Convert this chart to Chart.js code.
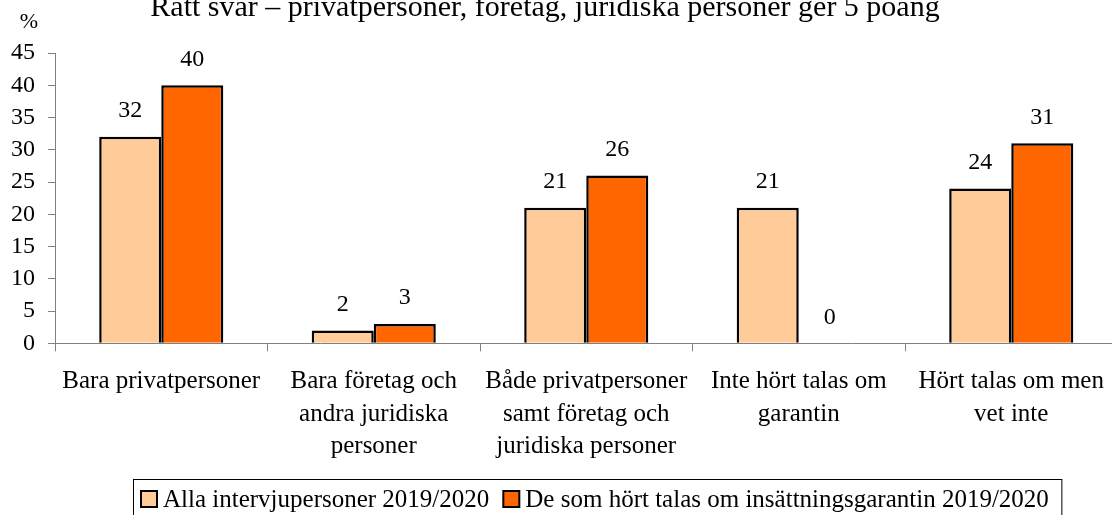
<!DOCTYPE html>
<html>
<head>
<meta charset="utf-8">
<script src="https://cdn.jsdelivr.net/npm/chart.js@4"></script>
<style>
  html, body { margin: 0; padding: 0; background: #fff; overflow: hidden; }
  #wrap { width: 1120px; height: 515px; }
</style>
</head>
<body>
<div id="wrap"><canvas id="svarChart" width="1120" height="515"></canvas></div>
<script>
// Rätt svar
const categories = [
    'Bara privatpersoner',
    ['Bara företag och', 'andra juridiska', 'personer'],
    ['Både privatpersoner', 'samt företag och', 'juridiska personer'],
    ['Inte hört talas om', 'garantin'],
    ['Hört talas om men', 'vet inte']
];
const allaValues = [32, 2, 21, 21, 24];
const hortValues = [40, 3, 26, 0, 31];
const seriesNames = ['Alla intervjupersoner 2019/2020', 'De som hört talas om insättningsgarantin 2019/2020'];
const yTicks = [0, 5, 10, 15, 20, 25, 30, 35, 40, 45];

const serif = "'Liberation Serif', 'Times New Roman', serif";

// value labels, title, % sign and boxed legend
const extras = {
    id: 'extras',
    afterDraw(chart) {
        const c = chart.ctx;
        c.save();
        c.fillStyle = '#000';
        c.font = '24px ' + serif;
        c.textAlign = 'center';
        c.textBaseline = 'middle';
        chart.data.datasets.forEach((ds, i) => {
            chart.getDatasetMeta(i).data.forEach((bar, j) => {
                c.fillText(String(ds.data[j]), bar.x, bar.y - 26);
            });
        });

        c.font = '30px ' + serif;
        c.textBaseline = 'alphabetic';
        c.fillText('Rätt svar – privatpersoner, företag, juridiska personer ger 5 poäng', 545, 16);

        c.font = '22px ' + serif;
        c.textBaseline = 'middle';
        c.fillText('%', 29, 22);

        // legend
        c.font = '25px ' + serif;
        c.textAlign = 'left';
        c.textBaseline = 'alphabetic';
        let x = 141;
        chart.data.datasets.forEach(ds => {
            c.fillStyle = ds.backgroundColor;
            c.fillRect(x, 491, 16, 16);
            c.strokeStyle = '#000';
            c.lineWidth = 2;
            c.strokeRect(x, 491, 16, 16);
            c.fillStyle = '#000';
            c.fillText(ds.label, x + 22, 507);
            x += 22 + c.measureText(ds.label).width + 14;
        });
        c.strokeStyle = '#000';
        c.lineWidth = 1;
        c.strokeRect(133.5, 479.5, x - 14 - 133.5 + 13, 50);
        c.restore();
    }
};

const ctx = document.getElementById('svarChart').getContext('2d');
const svarChart = new Chart(ctx, {
    type: 'bar',
    data: {
        labels: categories,
        datasets: [{
            label: seriesNames[0],
            data: allaValues,
            backgroundColor: '#FFCC99',
            borderColor: '#000',
            borderWidth: 2.5,
            borderSkipped: 'bottom'
        }, {
            label: seriesNames[1],
            data: hortValues,
            backgroundColor: '#FF6600',
            borderColor: '#000',
            borderWidth: 2.5,
            borderSkipped: 'bottom'
        }]
    },
    options: {
        responsive: false,
        animation: false,
        layout: { padding: { top: 53, left: 0, right: 2.5, bottom: 0 } },
        datasets: { bar: { categoryPercentage: 0.584, barPercentage: 1 } },
        plugins: {
            legend: { display: false },
            tooltip: { enabled: false }
        },
        scales: {
            x: {
                afterFit: s => { s.height = 171.7; },
                grid: { drawOnChartArea: false, tickLength: 8, color: '#808080' },
                border: { color: '#808080', width: 1 },
                ticks: {
                    color: '#000',
                    font: { family: serif, size: 25, lineHeight: 1.3 },
                    padding: 14,
                    maxRotation: 0,
                    autoSkip: false
                }
            },
            y: {
                min: 0,
                max: 45,
                afterFit: s => { s.width = 55; },
                afterBuildTicks: s => { s.ticks = yTicks.map(v => ({ value: v })); },
                grid: { drawOnChartArea: false, tickLength: 7, color: '#808080' },
                border: { color: '#808080', width: 1 },
                ticks: {
                    color: '#000',
                    font: { family: serif, size: 24 },
                    padding: 13
                }
            }
        }
    },
    plugins: [extras]
});
</script>
</body>
</html>
